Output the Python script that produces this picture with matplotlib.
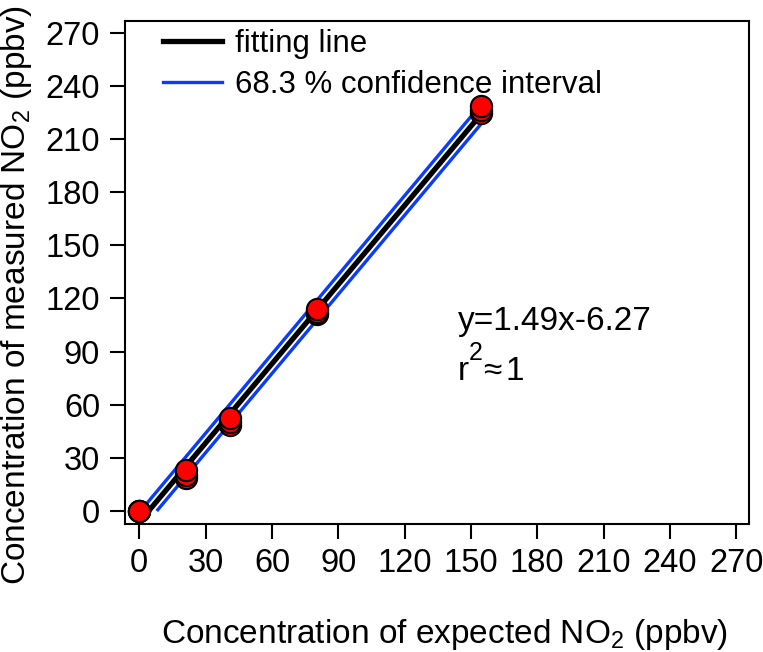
import numpy as np
import matplotlib
matplotlib.use("Agg")
import matplotlib.pyplot as plt
from matplotlib.lines import Line2D

plt.rcParams['font.family'] = ['Liberation Sans', 'DejaVu Sans']
plt.rcParams['mathtext.default'] = 'regular'

# ---- data ----
expected = [0, 0, 0, 21.1, 21.1, 21.1, 41.0, 41.0, 41.0, 80.5, 80.5, 80.5, 154.6, 154.6, 154.6]
measured = [0, 0, 0, 18.5, 20.5, 23.0, 48.7, 50.5, 52.5, 111.5, 112.3, 113.9, 225.0, 226.5, 228.7]
fit_slope = 1.49
fit_intercept = -6.27
ci_half = 5.5
ticks = [0, 30, 60, 90, 120, 150, 180, 210, 240, 270]
legend_labels = ["fitting line", "68.3 % confidence interval"]
eq_text = "y=1.49x-6.27"

W, H = 763, 652
fig = plt.figure(figsize=(W / 100, H / 100), dpi=100)
ax = fig.add_axes([125 / W, (H - 524) / H, (749 - 125) / W, (524 - 21) / H])

blue = '#0a3cff'
x_end = max(expected)

def seg(offset):
    x0 = -(fit_intercept + offset) / fit_slope
    xs = np.array([x0, x_end])
    return xs, fit_slope * xs + fit_intercept + offset

for off in (ci_half, -ci_half):
    xs, ys = seg(off)
    ax.plot(xs, ys, color=blue, lw=2.4, solid_capstyle='butt', zorder=2)
xs, ys = seg(0)
ax.plot(xs, ys, color='black', lw=3.8, solid_capstyle='butt', zorder=3)

order = np.argsort(measured, kind='stable')
for i in order:
    ax.plot(expected[i], measured[i], 'o', ms=15.3, mfc='#ff0000', mec='black',
            mew=1.5, zorder=4)

ax.set_xlim(-6.47, 275.8)
ax.set_ylim(-7.34, 276.7)
ax.set_xticks(ticks)
ax.set_yticks(ticks)
ax.set_xticklabels([str(t) for t in ticks])
ax.set_yticklabels([str(t) for t in ticks])
ax.tick_params(direction='out', length=11, width=1.5, labelsize=23.5, color='black')
ax.tick_params(axis='x', pad=6)
ax.tick_params(axis='y', pad=7)
for s in ax.spines.values():
    s.set_linewidth(1.5)

handles = [Line2D([], [], color='black', lw=3.8),
           Line2D([], [], color=blue, lw=2.4)]
ax.legend(handles, legend_labels, loc='upper left',
          bbox_to_anchor=((163 - 125) / 624, 1 - 8 / 503),
          frameon=False, fontsize=22.5, borderpad=0, borderaxespad=0,
          handlelength=1.89, handletextpad=0.42, labelspacing=0.35)

# annotation
ax.text(144.2, 102, eq_text, fontsize=24, ha='left', va='baseline')
ax.text(144.2, 74, "r", fontsize=24, ha='left', va='baseline')
ax.text(149.0, 85.0, "2", fontsize=18, ha='left', va='baseline')
ax.text(155.3, 74, "\u2248", fontsize=24, ha='left', va='baseline')
ax.text(165.5, 74, "1", fontsize=24, ha='left', va='baseline')

fig.text(445 / W, 1 - 643 / H, "Concentration of expected NO$_2$ (ppbv)",
         fontsize=24, ha='center', va='baseline')
fig.text(17 / W, 1 - 295 / H, "Concentration of measured NO$_2$ (ppbv)",
         fontsize=24, ha='center', va='center', rotation=90)

fig.savefig('out.png', dpi=100)
